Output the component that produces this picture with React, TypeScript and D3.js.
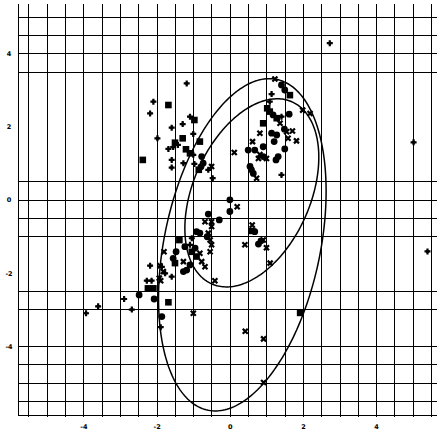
import React from "react";
import * as d3 from "d3";

// ---- data ----
const circles: [number, number][] = [
  [-0.78, 1.19], [-0.74, 1.01], [-0.8, 0.91], [1.4, 3.15], [1.49, 3.01], [1.17, 2.33],
  [1.61, 2.35], [1.48, 1.94], [1.13, 1.83], [1.27, 1.78], [1.2, 1.6], [1.49, 1.4],
  [0.49, 1.37], [0.67, 1.37], [0.9, 1.46], [0.9, 1.19], [1.31, 1.19], [1.25, 1.1],
  [0.54, 0.92], [0.58, 0.83], [0.63, 0.73], [-0.01, 0.01], [-0.01, -0.31], [-0.6, -0.38],
  [-0.3, -0.54], [-0.92, -0.86], [-0.83, -0.9], [-0.63, -1.0], [-1.24, -1.27], [-0.96, -1.31],
  [-1.48, -1.41], [-1.56, -1.59], [-1.1, -1.77], [-1.28, -1.95], [-1.19, -1.91], [0.67, -0.86],
  [0.77, -1.2], [0.84, -1.11], [-2.49, -2.59], [-2.08, -2.7], [-1.87, -3.18],
];

const squares: [number, number][] = [
  [-1.69, 2.6], [-0.98, 2.19], [-1.3, 1.69], [-1.51, 1.57], [-0.83, 1.6], [-1.21, 1.39],
  [-1.1, 1.28], [-2.39, 1.1], [-0.86, 0.83], [1.63, 2.87], [1.01, 2.51], [1.08, 2.42],
  [1.27, 2.24], [0.9, 2.1], [-1.39, -1.09], [-1.05, -1.41], [-0.92, -1.54], [-1.51, -1.72],
  [-2.1, -2.41], [-2.25, -2.41], [-1.69, -2.79], [1.91, -3.08], [0.6, -0.84],
];

const crosses: [number, number][] = [
  [0.11, 1.3], [-0.51, 0.92], [1.22, 3.31], [1.98, 2.46], [2.18, 2.37], [1.36, 2.1],
  [1.7, 1.89], [1.54, 1.87], [0.81, 1.83], [1.58, 1.69], [1.81, 1.62], [0.61, 1.6],
  [0.81, 1.25], [0.77, 1.14], [0.99, 1.14], [0.72, 0.6], [0.19, -0.18], [-0.69, -0.59],
  [-0.51, -0.59], [-0.51, -0.72], [-0.6, -0.9], [-0.55, -1.09], [-0.51, -1.22], [-0.83, -1.45],
  [-0.55, -1.41], [-1.81, -1.41], [-1.28, -1.68], [-0.78, -1.68], [-0.69, -1.82], [-1.83, -1.95],
  [-1.94, -2.13], [-1.9, -2.2], [-0.42, -2.2], [0.6, -0.68], [0.4, -1.22], [0.9, -1.09],
  [0.99, -1.3], [1.09, -1.72], [-1.01, -3.09], [0.41, -3.58], [0.91, -3.79], [0.91, -4.98],
  [-1.92, -1.79],
];

const pluses: [number, number][] = [
  [-1.19, 3.19], [-2.1, 2.69], [-2.19, 2.37], [-1.1, 2.28], [-1.3, 2.08], [-1.6, 1.98],
  [-1.01, 1.81], [-1.99, 1.69], [-1.69, 1.4], [-1.56, 1.45], [-1.43, 1.51], [-1.01, 1.24],
  [-1.6, 1.1], [-1.28, 1.01], [-0.98, 0.99], [-1.6, 0.89], [-0.6, 0.83], [-0.48, 0.6],
  [1.13, 2.9], [1.08, 2.69], [1.4, 2.28], [1.4, 0.69], [2.72, 4.29], [5.01, 1.58],
  [5.39, -1.4], [-3.94, -3.09], [-3.61, -2.9], [-2.9, -2.7], [-2.69, -2.99], [-2.19, -1.79],
  [-2.28, -2.2], [-2.15, -2.2], [-1.6, -2.09], [-1.78, -2.0], [-1.87, -1.82], [-1.9, -3.47],
  [-1.1, -1.22], [-1.05, -1.04],
];

// ellipses: center x, center y, sd-x, sd-y (already scaled), correlation
const ellipseCx = [0.33, 0.59];
const ellipseCy = [-1.22, 0.2];
const ellipseSx = [2.29, 1.83];
const ellipseSy = [4.54, 2.57];
const ellipseRho = [0.322, 0.378];

const xTickLabels = [-4, -2, 0, 2, 4];
const yTickLabels = [4, 2, 0, -2, -4];
const vGrid = d3.range(-5.5, 5.51, 0.5);
const hGrid = [5, 4.5, 4, 3.5, 0.5, 0, -0.5, -1, -2.5, -3, -4, -4.5, -5, -5.5];

const W = 437;
const H = 434;

export default function App() {
  const x = d3.scaleLinear().domain([-5.8, 5.65]).range([18, 437]);
  const y = d3.scaleLinear().domain([-5.87, 5.36]).range([415, 4]);
  const top = y(5.36);
  const bottom = y(-5.87);
  const left = x(-5.8);

  const ts = d3.range(0, 2 * Math.PI, Math.PI / 120);

  const ellipsePaths = ellipseCx.map((cx, k) => {
    const sx = ellipseSx[k], sy = ellipseSy[k], r = ellipseRho[k];
    const gen = d3
      .line<number>()
      .x((t) => x(cx + sx * Math.cos(t)))
      .y((t) => y(ellipseCy[k] + sy * (r * Math.cos(t) + Math.sqrt(1 - r * r) * Math.sin(t))))
      .curve(d3.curveLinearClosed);
    return gen(ts) as string;
  });

  const crossPath = (cx: number, cy: number, s: number) =>
    `M${cx - s},${cy - s}L${cx + s},${cy + s}M${cx - s},${cy + s}L${cx + s},${cy - s}`;
  const plusPath = (cx: number, cy: number, s: number) =>
    `M${cx - s},${cy}L${cx + s},${cy}M${cx},${cy - s}L${cx},${cy + s}`;

  return (
    <svg
      width={W}
      height={H}
      style={{ position: "absolute", left: 0, top: 0, background: "#fff" }}
      fontFamily="DejaVu Sans, sans-serif"
    >
      <rect x={0} y={0} width={W} height={H} fill="#fff" />
      <g stroke="#000" strokeWidth={1} shapeRendering="crispEdges">
        {vGrid.map((v) => (
          <line key={"v" + v} x1={x(v)} x2={x(v)} y1={top} y2={bottom + 2} />
        ))}
        {hGrid.map((v) => (
          <line key={"h" + v} x1={left} x2={W} y1={y(v)} y2={y(v)} />
        ))}
        <line x1={left} x2={left} y1={top} y2={bottom} />
        <line x1={left} x2={W} y1={bottom} y2={bottom} />
      </g>
      <g fontSize={6.5} fontWeight="bold" fill="#000" textAnchor="middle">
        {xTickLabels.map((v) => (
          <text key={"xl" + v} x={x(v)} y={bottom + 14}>
            {v}
          </text>
        ))}
        {yTickLabels.map((v) => (
          <text key={"yl" + v} x={9} y={y(v) + 2.3}>
            {v}
          </text>
        ))}
      </g>
      <g fill="none" stroke="#000" strokeWidth={1.5}>
        {ellipsePaths.map((d, i) => (
          <path key={"e" + i} d={d} />
        ))}
      </g>
      <g fill="#000">
        {circles.map(([a, b], i) => (
          <circle key={"c" + i} cx={x(a)} cy={y(b)} r={3.4} />
        ))}
        {squares.map(([a, b], i) => (
          <rect key={"s" + i} x={x(a) - 3.3} y={y(b) - 3.3} width={6.6} height={6.6} />
        ))}
      </g>
      <g stroke="#000" fill="none" strokeWidth={2.2}>
        {crosses.map(([a, b], i) => (
          <path key={"x" + i} d={crossPath(x(a), y(b), 2.5)} />
        ))}
        {pluses.map(([a, b], i) => (
          <path key={"p" + i} d={plusPath(x(a), y(b), 3)} />
        ))}
      </g>
      <g fill="#000">
        {pluses.map(([a, b], i) => (
          <rect
            key={"pc" + i}
            x={x(a) - 1.6}
            y={y(b) - 1.6}
            width={3.2}
            height={3.2}
            transform={`rotate(45 ${x(a)} ${y(b)})`}
          />
        ))}
      </g>
    </svg>
  );
}
